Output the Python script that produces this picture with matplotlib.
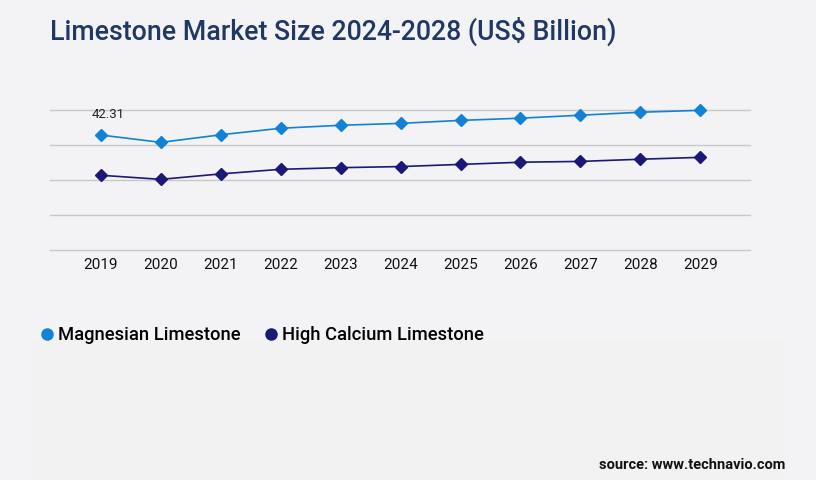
import matplotlib
matplotlib.use("Agg")
import matplotlib.pyplot as plt
from matplotlib.lines import Line2D
from matplotlib.patches import Rectangle

plt.rcParams['font.family'] = ['Roboto', 'DejaVu Sans']

# data
years = [2019, 2020, 2021, 2022, 2023, 2024, 2025, 2026, 2027, 2028, 2029]
magnesian = [42.31, 39.6, 42.4, 44.8, 45.9, 46.6, 47.7, 48.5, 49.6, 50.7, 51.4]
high_calcium = [27.5, 26.0, 28.0, 29.7, 30.3, 30.7, 31.5, 32.3, 32.6, 33.4, 34.1]
grid_step = 12.88

c_mag = '#1282d6'
c_hc = '#1b1878'
bg = '#f3f3f5'

fig = plt.figure(figsize=(8.16, 4.8), dpi=100, facecolor=bg)
# faint panel behind the legend area
fig.patches.append(Rectangle((30/816, 0), 760/816, 140/480, transform=fig.transFigure,
                             facecolor='#f2f2f3', edgecolor='none', zorder=0))

ax = fig.add_axes([50/816, 230/480, 700/816, 140/480])
ax.set_facecolor('none')

ax.plot(years, magnesian, color=c_mag, lw=1.2, marker='D', ms=6, clip_on=False, zorder=3)
ax.plot(years, high_calcium, color=c_hc, lw=1.2, marker='D', ms=6, clip_on=False, zorder=3)
ax.annotate('42.31', (years[0], magnesian[0]), xytext=(5, 10), textcoords='offset points',
            ha='center', va='bottom', fontsize=9.5, color='#222222')

ax.set_xlim(2018.15, 2029.83)
ax.set_ylim(0, 4 * grid_step)
for i in range(5):
    ax.axhline(i * grid_step, color='#c8c8c8', lw=1, clip_on=False, zorder=1)
ax.set_yticks([])
ax.set_xticks(years)
ax.set_xticklabels([str(y) for y in years], fontsize=11, color='#111111')
ax.tick_params(axis='both', length=0)
ax.tick_params(axis='x', pad=6)
for s in ax.spines.values():
    s.set_visible(False)

fig.text(50/816, 1 - 31/480, 'Limestone Market Size 2024-2028 (US$ Billion)', fontsize=19.3,
         fontweight='medium', color='#1f3864', va='center', ha='left')

handles = [Line2D([], [], ls='none', marker='o', ms=8, color=c_mag),
           Line2D([], [], ls='none', marker='o', ms=8, color=c_hc)]
fig.legend(handles, ['Magnesian Limestone', 'High Calcium Limestone'], loc='center left',
           bbox_to_anchor=(21/816, 1 - 335/480), ncol=2, frameon=False,
           handletextpad=0.1, columnspacing=1.15, handlelength=1.0,
           prop={'size': 13.2, 'weight': 'medium'})

fig.text(785/816, 1 - 465/480, 'source: www.technavio.com', fontsize=10.5, fontweight='bold',
         color='#111111', ha='right', va='center')

fig.savefig('out.png', dpi=100, facecolor=bg)
